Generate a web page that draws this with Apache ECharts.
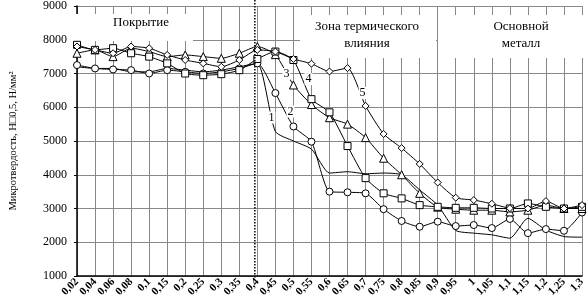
<!DOCTYPE html>
<html><head><meta charset="utf-8">
<script src="https://cdn.jsdelivr.net/npm/echarts@6/dist/echarts.min.js"></script>
<style>html,body{margin:0;padding:0;background:#fff}#c{width:588px;height:302px}</style>
</head><body><div id="c"></div>
<script>
const categories = ['0,02','0,04','0,06','0,08','0,1','0,15','0,2','0,25','0,3','0,35','0,4','0,45','0,5','0,55','0,6','0,65','0,7','0,75','0,8','0,85','0,9','0,95','1','1,05','1,1','1,15','1,2','1,25','1,3'];
const yMin = 1000, yMax = 9000, yStep = 1000;
const series1 = [7200,7150,7150,7050,7050,7150,7100,7050,7100,7200,7300,5280,5000,4760,4050,4090,4030,4050,4000,3550,3100,2350,2270,2220,2120,2710,2360,2170,2150];
const series2 = [7250,7150,7120,7100,7000,7100,7050,7000,7050,7150,7300,6420,5430,4980,3500,3480,3450,2980,2630,2460,2610,2480,2510,2420,2690,2270,2390,2340,2880];
const series3 = [7600,7700,7500,7750,7650,7500,7550,7500,7450,7600,7800,7560,6660,6080,5690,5500,5100,4490,4000,3450,3040,2980,2950,2950,2900,2950,3100,3000,3000];
const series4 = [7850,7700,7750,7600,7500,7300,7000,6950,6980,7100,7430,7650,7400,6240,5850,4850,3900,3450,3300,3100,3050,3020,3020,3000,3000,3150,3050,3000,3050];
const series5 = [7800,7700,7600,7800,7750,7550,7400,7300,7200,7400,7700,7650,7430,7290,7060,7160,6040,5210,4790,4320,3770,3320,3250,3140,3010,3000,3220,3000,3100];
const seriesNames = ['1','2','3','4','5'];
const labelIndex = [11, 12, 12, 13, 16];
const labelOffset = [[-4,-14],[-3,-15],[-7,-11],[-3,-20],[-3,-13]];
const symbols = ['none','circle','triangle','rect','diamond'];
const allData = [series1, series2, series3, series4, series5];

const serif = 'Liberation Serif';
const chart = echarts.init(document.getElementById('c'), null, {renderer:'canvas'});

const seriesList = allData.map((arr, k) => ({
  name: seriesNames[k],
  type: 'line',
  smooth: 0.2,
  symbol: symbols[k] === 'none' ? 'circle' : symbols[k],
  symbolSize: symbols[k] === 'none' ? 0 : (symbols[k] === 'triangle' ? 8 : 7),
  showAllSymbol: true,
  lineStyle: {color:'#000', width:1},
  itemStyle: {color:'#fff', borderColor:'#000', borderWidth:1},
  z: 3 + k,
  data: arr.map((v, i) => i === labelIndex[k] ? {
    value: v,
    label: {show:true, formatter: seriesNames[k], offset: labelOffset[k], position:'inside',
      fontFamily: serif, fontSize: 12, color:'#000', backgroundColor:'#fff', padding:[0,1]}
  } : v),
  animation: false
}));

const boxes = [
  {id:'b1', type:'rect', shape:{x:74, y:14, width:119, height:27}, style:{fill:'#fff'}, z:2},
  {id:'t1', type:'text', x:141, y:23, style:{text:'Покрытие', font:'13px "Liberation Serif"', fill:'#000', textAlign:'center', textVerticalAlign:'middle'}, z:3},
  {id:'b2', type:'rect', shape:{x:300, y:15, width:136, height:43}, style:{fill:'#fff'}, z:2},
  {id:'t2', type:'text', x:367, y:35, style:{text:'Зона термического\nвлияния', font:'13px "Liberation Serif"', fill:'#000', textAlign:'center', textVerticalAlign:'middle', lineHeight:17}, z:3},
  {id:'b3', type:'rect', shape:{x:438, y:15, width:145, height:43}, style:{fill:'#fff'}, z:2},
  {id:'t3', type:'text', x:521, y:35, style:{text:'Основной\nметалл', font:'13px "Liberation Serif"', fill:'#000', textAlign:'center', textVerticalAlign:'middle', lineHeight:17}, z:3}
];

chart.setOption({
  animation: false,
  backgroundColor: '#fff',
  grid: {left: 72, right: 3, top: 6, bottom: 26},
  xAxis: {
    type: 'category', data: categories, boundaryGap: false,
    axisLine: {lineStyle: {color:'#000', width:1.5}},
    axisTick: {show:false},
    splitLine: {show:true, lineStyle:{color:'#888', width:1}},
    axisLabel: {rotate: 45, interval: 0, fontFamily: serif, fontSize: 11, fontWeight:'bold', color:'#000', margin: 4}
  },
  yAxis: {
    type: 'value', min: yMin, max: yMax, interval: yStep,
    name: 'Микротвердость, H\u25A10,5, Н/мм\u00B2', nameLocation: 'middle', nameGap: 58,
    nameTextStyle: {fontFamily: serif, fontSize: 10.5, color:'#000'},
    axisLine: {show:true, lineStyle: {color:'#000', width:1.5}},
    axisTick: {show:true, length: 3, lineStyle:{color:'#000'}},
    splitLine: {show:true, lineStyle:{color:'#888', width:1}},
    axisLabel: {fontFamily: serif, fontSize: 12, color:'#000', margin: 10, formatter: v => String(v)}
  },
  graphic: boxes,
  series: seriesList
});

const xp = chart.convertToPixel({xAxisIndex: 0}, '0,4');
chart.setOption({
  graphic: [{id:'divider', type:'line', shape:{x1: xp - 2.5, y1: 0, x2: xp - 2.5, y2: 279},
    style:{stroke:'#000', lineWidth:1.5, lineDash:[1.5,1.5]}, z: 20}]
});
</script></body></html>
